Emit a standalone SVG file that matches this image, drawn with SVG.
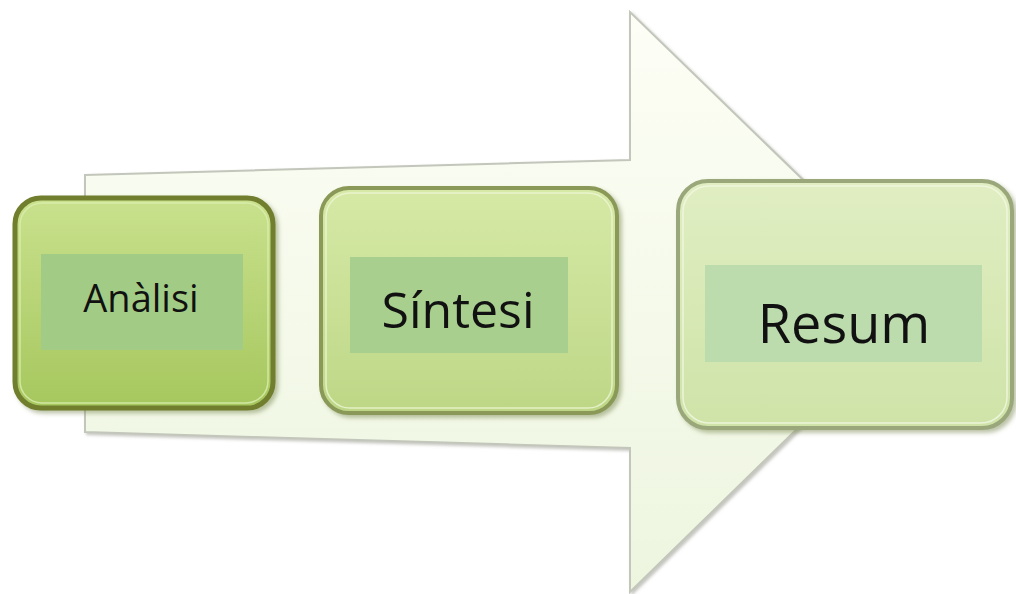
<svg xmlns="http://www.w3.org/2000/svg" width="1016" height="594" viewBox="0 0 1016 594">
  <defs>
    <linearGradient id="arrowFill" x1="0" y1="0" x2="0" y2="1">
      <stop offset="0" stop-color="#fdfef6"/>
      <stop offset="1" stop-color="#edf5df"/>
    </linearGradient>
    <linearGradient id="g1" x1="0" y1="0" x2="0" y2="1">
      <stop offset="0" stop-color="#c9e18d"/>
      <stop offset="1" stop-color="#a6c75e"/>
    </linearGradient>
    <linearGradient id="g2" x1="0" y1="0" x2="0" y2="1">
      <stop offset="0" stop-color="#d6e9a6"/>
      <stop offset="1" stop-color="#bdd786"/>
    </linearGradient>
    <linearGradient id="g3" x1="0" y1="0" x2="0" y2="1">
      <stop offset="0" stop-color="#e0eec2"/>
      <stop offset="1" stop-color="#cfe3a8"/>
    </linearGradient>
    <filter id="shadow" x="-10%" y="-10%" width="125%" height="125%">
      <feDropShadow dx="3" dy="3" stdDeviation="2" flood-color="#6b7a40" flood-opacity="0.45"/>
    </filter>
    <filter id="ashadow" x="-5%" y="-5%" width="110%" height="110%">
      <feDropShadow dx="2" dy="2" stdDeviation="1.5" flood-color="#8a8a80" flood-opacity="0.5"/>
    </filter>
  </defs>
  <style>
    .lbl { font-family: "Open Sans", "Noto Sans", "Liberation Sans", sans-serif; fill: #111; text-anchor: middle; }
    .inner { stroke: none; }
  </style>
  <rect width="1016" height="594" fill="#ffffff"/>

  <g id="arrow">
    <path d="M85,175 L630,160 L630,12 L928,301 L630,592 L630,448 L85,432 Z" fill="url(#arrowFill)" stroke="#c2c6bb" stroke-width="2" filter="url(#ashadow)"/>
  </g>

  <g id="connectors"></g>

  <g id="node-analisi">
    <rect x="15" y="198" width="258" height="210" rx="26" fill="url(#g1)" stroke="#6f7e2e" stroke-width="5" filter="url(#shadow)"/>
    <rect x="20" y="203" width="248" height="200" rx="22" fill="none" stroke="#dcedb0" stroke-width="1.5" opacity="0.8"/>
    <rect class="inner" x="41" y="254" width="202" height="96" fill="#a2cb86"/>
    <text class="lbl" x="141" y="312" font-size="38">Anàlisi</text>
  </g>

  <g id="node-sintesi">
    <rect x="321" y="188" width="296" height="225" rx="28" fill="url(#g2)" stroke="#8a9858" stroke-width="4" filter="url(#shadow)"/>
    <rect x="326" y="193" width="286" height="215" rx="24" fill="none" stroke="#eef6d6" stroke-width="1.5" opacity="0.8"/>
    <rect class="inner" x="350" y="257" width="218" height="96" fill="#a8cf8d"/>
    <text class="lbl" x="458" y="328" font-size="50">Síntesi</text>
  </g>

  <g id="node-resum">
    <rect x="678" y="181" width="334" height="247" rx="30" fill="url(#g3)" stroke="#9aa77a" stroke-width="4" filter="url(#shadow)"/>
    <rect x="683" y="186" width="324" height="237" rx="26" fill="none" stroke="#f2f8e4" stroke-width="1.5" opacity="0.8"/>
    <rect class="inner" x="705" y="265" width="277" height="97" fill="#bcdcae"/>
    <text class="lbl" x="844" y="343" font-size="54">Resum</text>
  </g>
</svg>
